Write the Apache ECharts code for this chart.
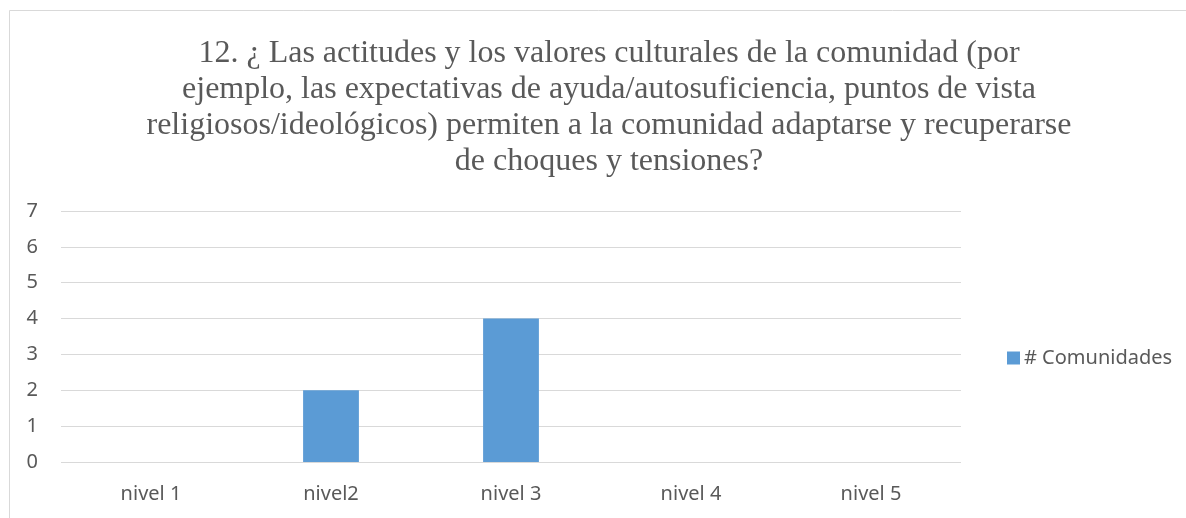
<!DOCTYPE html>
<html>
<head>
<meta charset="utf-8">
<script src="https://cdn.jsdelivr.net/npm/echarts@6/dist/echarts.min.js"></script>
<style>
html,body{margin:0;padding:0;background:#fff;}
#chart{width:1186px;height:518px;}
</style>
</head>
<body>
<div id="chart"></div>
<script>
const titleText = "12. ¿ Las actitudes y los valores culturales de la comunidad (por\nejemplo, las expectativas de ayuda/autosuficiencia, puntos de vista\nreligiosos/ideológicos) permiten a la comunidad adaptarse y recuperarse\nde choques y tensiones?";
const categories = ["nivel 1", "nivel2", "nivel 3", "nivel 4", "nivel 5"];
const seriesName = "# Comunidades";
const values = [0, 2, 4, 0, 0];
const yMin = 0, yMax = 7, yInterval = 1;

const chart = echarts.init(document.getElementById('chart'), null, {renderer: 'canvas'});
chart.setOption({
  backgroundColor: '#ffffff',
  animation: false,
  graphic: [{
    type: 'rect', silent: true, z: -1,
    shape: {x: 9.5, y: 10.5, width: 1300, height: 700},
    style: {fill: 'none', stroke: '#d9d9d9', lineWidth: 1}
  }],
  title: {
    text: titleText,
    left: 604, top: 31, textAlign: 'center',
    textStyle: {
      fontFamily: 'Liberation Serif', fontWeight: 'normal',
      fontSize: 32, lineHeight: 36, color: '#595959'
    }
  },
  legend: {
    data: [seriesName],
    left: 1002, top: 343,
    icon: 'rect', itemWidth: 13, itemHeight: 13, itemGap: 5,
    textStyle: {fontFamily: 'Noto Sans', fontSize: 20, color: '#595959', padding: [0,0,0,-1]}
  },
  grid: {left: 61, right: 225, top: 211, bottom: 56, containLabel: false},
  xAxis: {
    type: 'category', data: categories,
    axisLine: {show: false}, axisTick: {show: false},
    axisLabel: {fontFamily: 'Noto Sans', fontSize: 20, color: '#595959', margin: 22}
  },
  yAxis: {
    type: 'value', min: yMin, max: yMax, interval: yInterval,
    axisLine: {show: false}, axisTick: {show: false},
    axisLabel: {fontFamily: 'Noto Sans', fontSize: 20, color: '#595959', margin: 23},
    splitLine: {lineStyle: {color: '#d9d9d9', width: 1}}
  },
  series: [{
    name: seriesName, type: 'bar', data: values,
    barWidth: '31%',
    itemStyle: {color: '#5b9bd5'}
  }]
});
</script>
</body>
</html>
